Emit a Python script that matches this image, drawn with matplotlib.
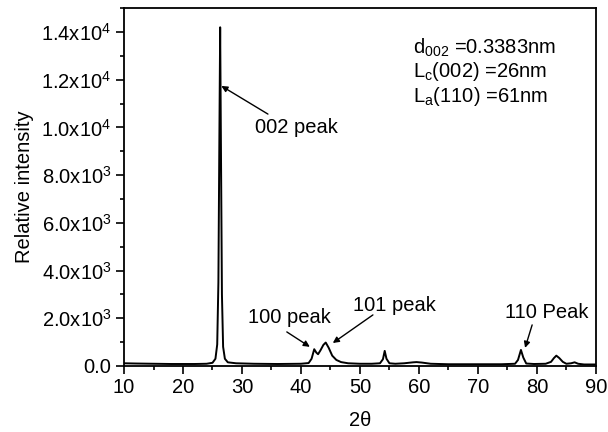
import matplotlib
matplotlib.use("Agg")
import matplotlib.pyplot as plt
from matplotlib.ticker import MultipleLocator, FuncFormatter

plt.rcParams['font.family'] = ['Liberation Sans', 'DejaVu Sans']
plt.rcParams['mathtext.fontset'] = 'custom'
plt.rcParams['mathtext.rm'] = 'Liberation Sans'
plt.rcParams['mathtext.it'] = 'Liberation Sans'

# XRD pattern
two_theta = [10, 12, 15, 18, 20, 22, 24, 25.0, 25.5, 25.8, 26.0, 26.15, 26.3, 26.45,
             26.6, 26.8, 27.1, 27.6, 29, 32, 36, 40, 41.3, 41.8, 42.25, 42.6, 42.9,
             43.3, 43.8, 44.2, 44.7, 45.3, 46.0, 46.8, 48, 50, 52, 53.4, 53.9, 54.2,
             54.5, 55.0, 56, 57.5, 59.0, 59.6, 60.5, 62, 65, 70, 74, 76.3, 76.8, 77.3,
             77.7, 78.2, 79.5, 81.5, 82.4, 82.9, 83.3, 83.8, 84.4, 85.0, 85.8, 86.4,
             87.0, 88, 90]
intensity = [110, 100, 90, 80, 80, 80, 90, 130, 300, 900, 3500, 9000, 14200, 8500,
             3000, 800, 300, 150, 110, 90, 80, 90, 120, 300, 700, 560, 490,
             650, 880, 980, 760, 430, 250, 160, 110, 90, 90, 110, 280, 630,
             300, 110, 90, 110, 150, 160, 140, 90, 70, 70, 70, 90, 250, 670,
             350, 100, 80, 90, 170, 330, 430, 330, 170, 90, 110, 150,
             90, 60, 60]

y_ticks = [0, 2000, 4000, 6000, 8000, 10000, 12000, 14000]
x_ticks = [10, 20, 30, 40, 50, 60, 70, 80, 90]


def sci(v, pos):
    if v == 0:
        return "0.0"
    e = 3 if v < 10000 else 4
    return "%.1fx10$^{%d}$" % (v / 10 ** e, e)


fs = 14.5
fig = plt.figure(figsize=(6.08, 4.32), dpi=100)
ax = fig.add_axes([0.204, 0.153, 0.776, 0.828])
ax.plot(two_theta, intensity, color='black', lw=1.4)

ax.set_xlim(10, 90)
ax.set_ylim(0, 15000)
ax.set_xticks(x_ticks)
ax.set_yticks(y_ticks)
ax.xaxis.set_minor_locator(MultipleLocator(5))
ax.yaxis.set_minor_locator(MultipleLocator(1000))
ax.yaxis.set_major_formatter(FuncFormatter(sci))
ax.tick_params(which='major', direction='out', length=6, width=1.2, labelsize=fs, pad=3)
ax.tick_params(which='minor', direction='out', length=3, width=1.2)
for s in ax.spines.values():
    s.set_linewidth(1.3)

ax.set_xlabel("2θ", fontsize=fs, labelpad=10)
ax.set_ylabel("Relative intensity", fontsize=fs, labelpad=5)

arrow = dict(arrowstyle='-|>', color='black', lw=1, mutation_scale=9, shrinkA=0, shrinkB=0)
ax.text(32.2, 9980, "002 peak", fontsize=fs, va='center', ha='left')
ax.annotate("", xy=(26.5, 11740), xytext=(34.4, 10560), arrowprops=arrow)
ax.text(38.05, 2012, "100 peak", fontsize=fs, ha='center', va='center')
ax.annotate("", xy=(41.5, 800), xytext=(37.6, 1425), arrowprops=arrow)
ax.text(55.9, 2515, "101 peak", fontsize=fs, ha='center', va='center')
ax.annotate("", xy=(45.4, 960), xytext=(52.2, 2138), arrowprops=arrow)
ax.text(81.6, 2222, "110 Peak", fontsize=fs, ha='center', va='center')
ax.annotate("", xy=(78.0, 755), xytext=(79.2, 1719), arrowprops=arrow)

ax.text(59.0, 13330, "d$_{002}$ =0.3383nm", fontsize=fs, va='center')
ax.text(59.0, 12325, "L$_{c}$(002) =26nm", fontsize=fs, va='center')
ax.text(59.0, 11277, "L$_{a}$(110) =61nm", fontsize=fs, va='center')

fig.savefig("out.png", dpi=100)
